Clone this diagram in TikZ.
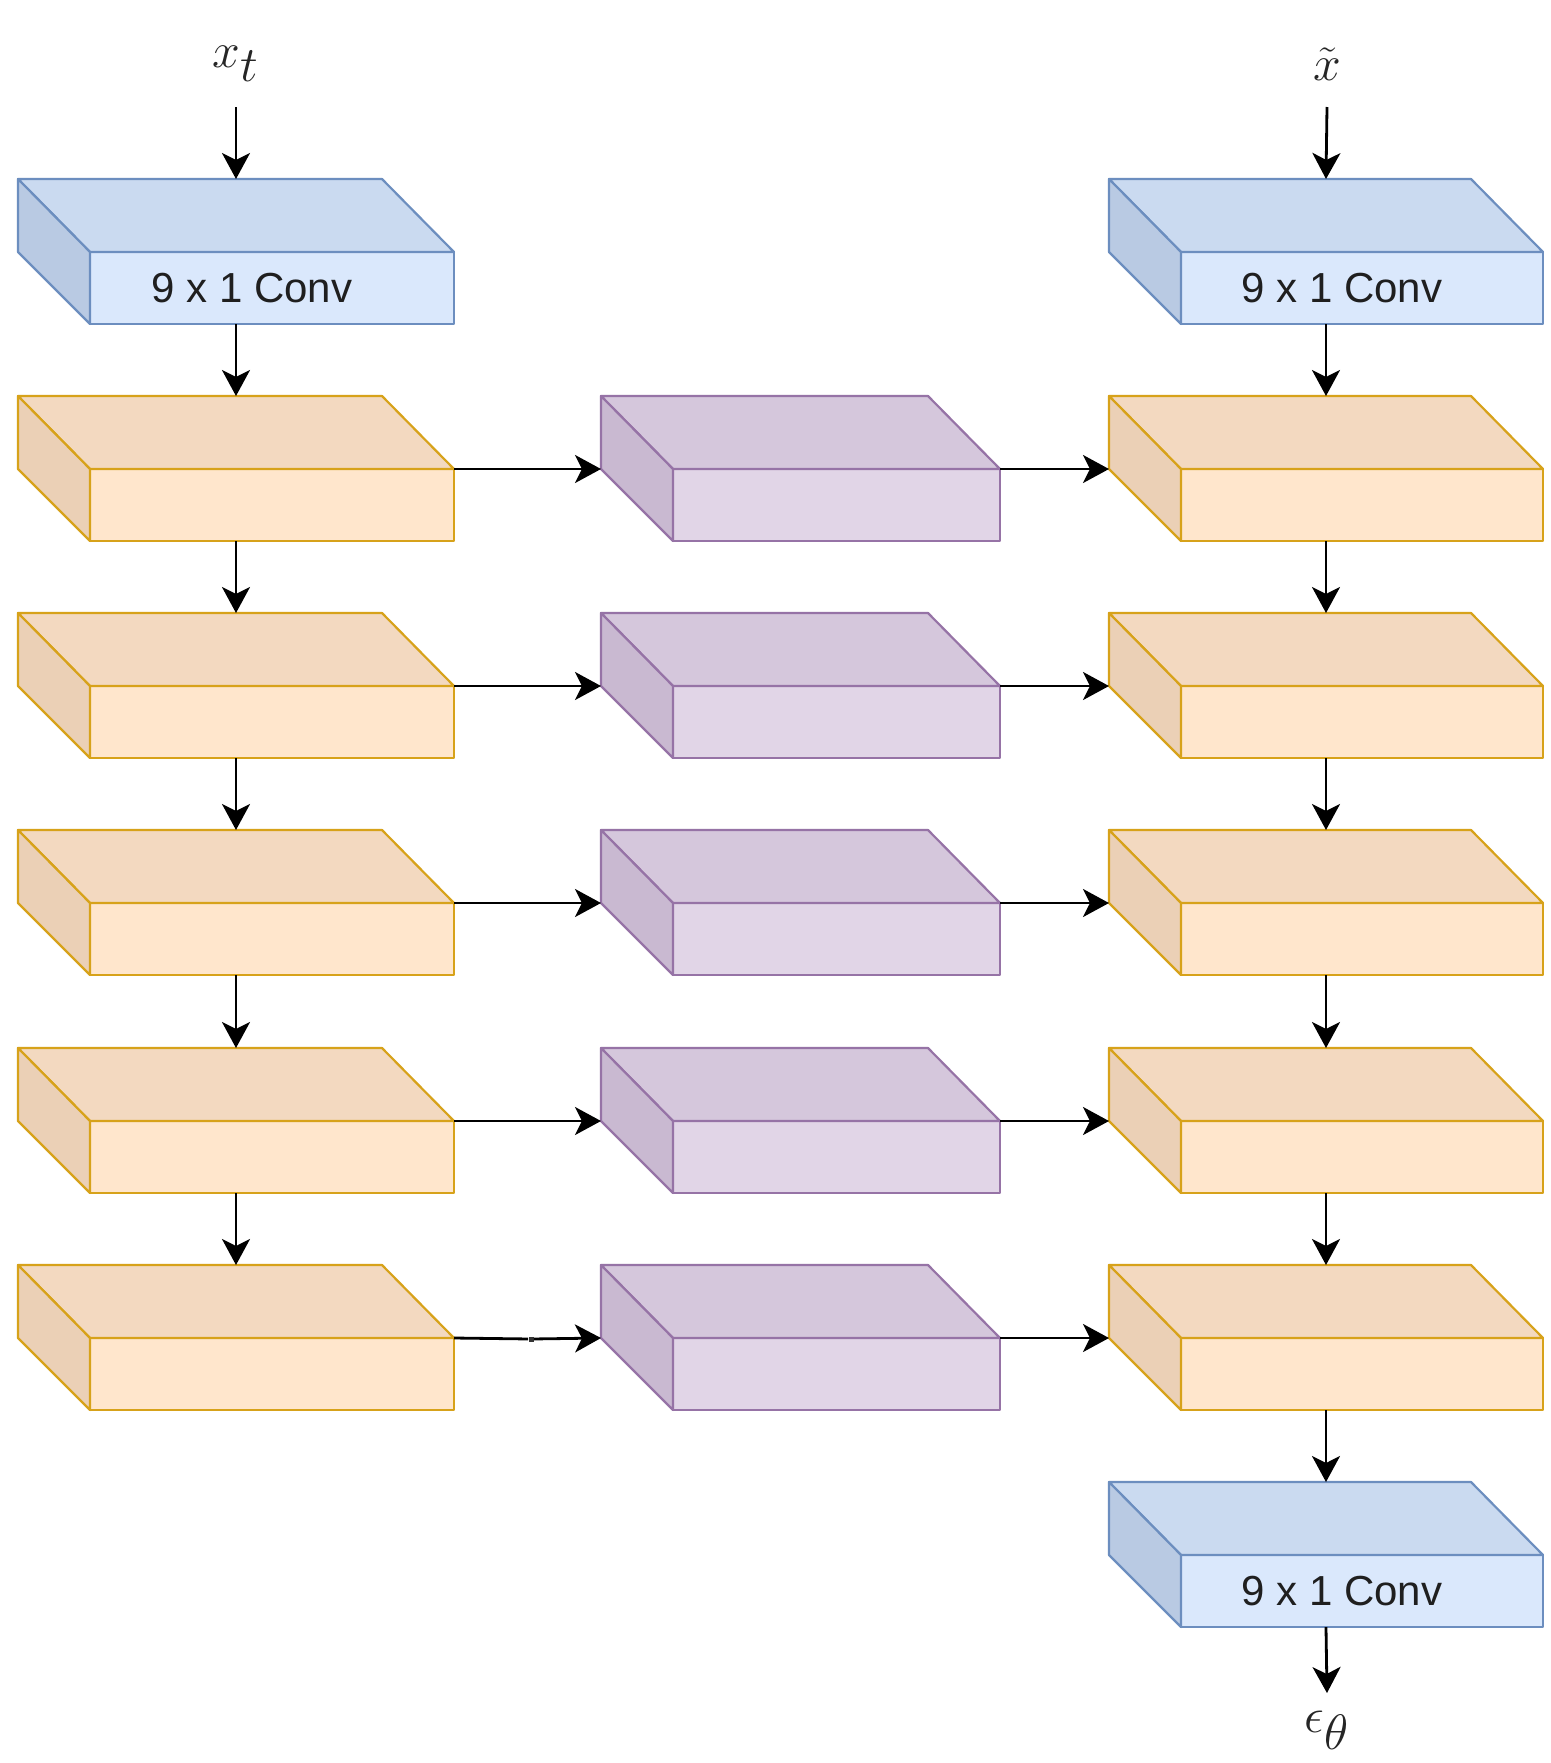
\documentclass[tikz,border=0pt]{standalone}
\usepackage{fontspec}
\setsansfont{Liberation Sans}
\usetikzlibrary{arrows.meta,calc}

% face colours of the three kinds of block
\definecolor{bluefront}{HTML}{DAE8FC}
\definecolor{bluetop}{HTML}{CADAF0}
\definecolor{blueleft}{HTML}{B9CAE3}
\definecolor{blueline}{HTML}{6C8EBF}
\definecolor{orangefront}{HTML}{FFE6CC}
\definecolor{orangetop}{HTML}{F3D9C0}
\definecolor{orangeleft}{HTML}{EBD0B6}
\definecolor{orangeline}{HTML}{D7A21A}
\definecolor{purplefront}{HTML}{E1D5E7}
\definecolor{purpletop}{HTML}{D5C7DC}
\definecolor{purpleleft}{HTML}{C9B9D1}
\definecolor{purpleline}{HTML}{9673A6}

\tikzset{
  face/.style={line width=1.1pt, line join=round},
  flow/.style={line width=1.4pt, draw=black,
    -{Stealth[length=13pt, width=14pt, inset=3.5pt]}},
  convtext/.style={font=\sffamily\fontsize{21}{24}\selectfont, text=black!88},
  mathlabel/.style={font=\fontsize{40}{44}\selectfont, inner sep=0pt, text=black!85},
}

% \cubeblk{name}{colour}{front-left x}{front-top y}{front width}{label}
% the front face is the node; top and left faces sit 72 units left, 73 units up
\newcommand\cubeblk[6]{%
  \node[face, draw=#2line, fill=#2front, anchor=north west,
        minimum width=#5, minimum height=36pt, inner sep=0pt, outer sep=0pt,
        convtext] (#1) at (#3,#4) {#6};
  \filldraw[face, draw=#2line, fill=#2top]
    (#1.north west) -- ++(-72,-73) -- ($(#1.north east)+(-72,-73)$)
    -- (#1.north east) -- cycle;
  \filldraw[face, draw=#2line, fill=#2left]
    (#1.north west) -- ++(-72,-73) -- ++(0,73) -- (#1.south west) -- cycle;
  \path (#1.north) ++(-36,-73) coordinate (#1-top);
  \path (#1.south) ++(-36,0) coordinate (#1-bot);
  \path (#1.north west) ++(-72,0) coordinate (#1-side);
}

\begin{document}
\begin{tikzpicture}[x=0.5pt, y=-0.5pt]
  \fill[white] (0,0) rectangle (1551,1763);
  \useasboundingbox (0,0) rectangle (1551,1763);

  % input and output convolutions
  \cubeblk{convL}{blue}{90}{252}{182pt}{9 x 1 Conv\hspace*{20pt}}
  \cubeblk{convR}{blue}{1181}{252}{181pt}{9 x 1 Conv\hspace*{20pt}}
  \cubeblk{convO}{blue}{1181}{1555}{181pt}{9 x 1 Conv\hspace*{20pt}}

  % the five rows of residual blocks
  \foreach \r/\y in {1/469, 2/686, 3/903, 4/1121, 5/1338} {
    \cubeblk{L\r}{orange}{90}{\y}{182pt}{}
    \cubeblk{M\r}{purple}{673}{\y}{163.5pt}{}
    \cubeblk{R\r}{orange}{1181}{\y}{181pt}{}
  }

  % inputs and output
  \node[mathlabel] (xt) at (236,64) {$x_t$};
  \node[mathlabel] (xc) at (1327,64) {$\tilde{x}$};
  \node[mathlabel] (eps) at (1327,1730) {$\epsilon_\theta$};
  \coordinate (xtend) at (236,107);
  \coordinate (xcend) at (1327,107);
  \coordinate (epsend) at (1327,1693);

  \draw[flow] (xtend) -- (convL-top);
  \draw[flow] (xcend) -- (convR-top);
  \draw[flow] (convO-bot) -- (epsend);

  % vertical chains
  \draw[flow] (convL-bot) -- (L1-top);
  \draw[flow] (convR-bot) -- (R1-top);
  \draw[flow] (R5-bot) -- (convO-top);
  \foreach \a/\b in {1/2, 2/3, 3/4, 4/5} {
    \draw[flow] (L\a-bot) -- (L\b-top);
    \draw[flow] (R\a-bot) -- (R\b-top);
  }

  % horizontal links through the middle blocks
  \foreach \r in {1,2,3,4} {
    \draw[flow] (L\r.north east) -- (M\r-side);
    \draw[flow] (M\r.north east) -- (R\r-side);
  }
  \node[fill=black!80, inner sep=0pt, minimum size=2.5pt] (wp) at (531,1339) {};
  \draw[flow] (L5.north east) -- (wp) -- (M5-side);
  \draw[flow] (M5.north east) -- (R5-side);
\end{tikzpicture}
\end{document}
